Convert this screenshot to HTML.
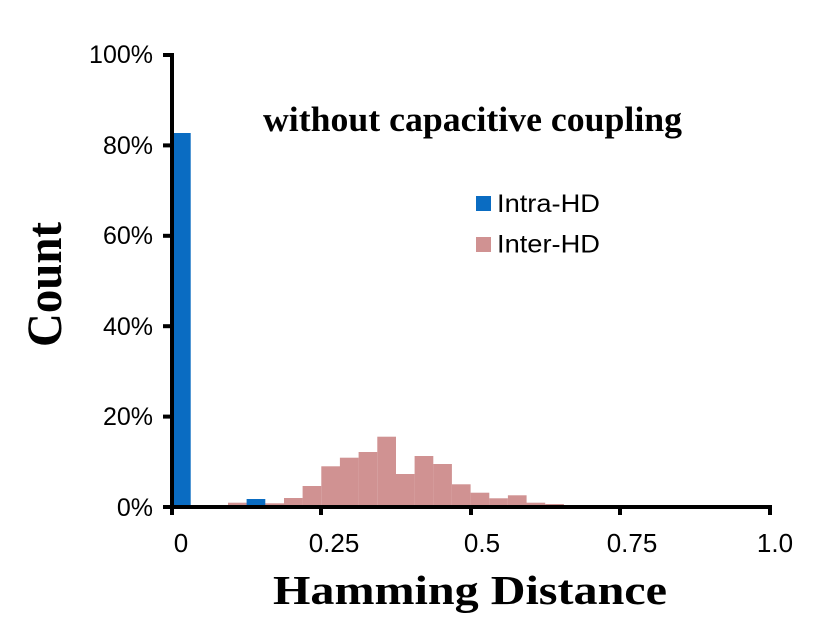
<!DOCTYPE html>
<html>
<head>
<meta charset="utf-8">
<style>
  html, body { margin: 0; padding: 0; background: #ffffff; }
  svg { display: block; }
</style>
</head>
<body>
<svg width="836" height="644" viewBox="0 0 836 644" xmlns="http://www.w3.org/2000/svg">
  <rect x="0" y="0" width="836" height="644" fill="#ffffff"/>

  <!-- Inter-HD bars (pink) -->
  <g fill="#D09292">
    <rect x="228.0" y="502.7" width="18.7" height="2.8"/>
    <rect x="246.6" y="503.0" width="18.7" height="2.5"/>
    <rect x="265.3" y="503.3" width="18.7" height="2.2"/>
    <rect x="284.0" y="498.0" width="18.7" height="7.5"/>
    <rect x="302.6" y="486.0" width="18.7" height="19.5"/>
    <rect x="321.3" y="466.3" width="18.7" height="39.2"/>
    <rect x="339.9" y="457.7" width="18.7" height="47.8"/>
    <rect x="358.6" y="452.0" width="18.7" height="53.5"/>
    <rect x="377.3" y="436.7" width="18.7" height="68.8"/>
    <rect x="395.9" y="474.0" width="18.7" height="31.5"/>
    <rect x="414.6" y="456.0" width="18.7" height="49.5"/>
    <rect x="433.2" y="464.0" width="18.7" height="41.5"/>
    <rect x="451.9" y="484.3" width="18.7" height="21.2"/>
    <rect x="470.6" y="492.7" width="18.7" height="12.8"/>
    <rect x="489.2" y="498.3" width="18.7" height="7.2"/>
    <rect x="507.9" y="495.3" width="18.7" height="10.2"/>
    <rect x="526.5" y="502.7" width="18.7" height="2.8"/>
    <rect x="545.2" y="504.0" width="18.7" height="1.5"/>
  </g>

  <!-- Intra-HD bars (blue) -->
  <g fill="#0A6CC2">
    <rect x="172" y="133" width="18.7" height="372.5"/>
    <rect x="246.6" y="499" width="18.7" height="6.5"/>
  </g>

  <!-- Axes -->
  <g fill="#000000">
    <rect x="170" y="53" width="4" height="456"/>
    <rect x="170" y="505" width="602" height="4"/>
    <!-- y ticks -->
    <rect x="163" y="53" width="9" height="4"/>
    <rect x="163" y="143.4" width="9" height="4"/>
    <rect x="163" y="233.8" width="9" height="4"/>
    <rect x="163" y="324.2" width="9" height="4"/>
    <rect x="163" y="414.6" width="9" height="4"/>
    <rect x="163" y="505" width="9" height="4"/>
    <!-- x ticks -->
    <rect x="170" y="505" width="4" height="10"/>
    <rect x="319" y="505" width="4" height="10"/>
    <rect x="469" y="505" width="4" height="10"/>
    <rect x="618" y="505" width="4" height="10"/>
    <rect x="768" y="505" width="4" height="10"/>
  </g>

  <!-- Y tick labels -->
  <g font-family="Liberation Sans, Arial, sans-serif" font-size="25" fill="#000" text-anchor="end">
    <text x="153" y="63">100%</text>
    <text x="153" y="154">80%</text>
    <text x="153" y="244">60%</text>
    <text x="153" y="335">40%</text>
    <text x="153" y="425">20%</text>
    <text x="153" y="516">0%</text>
  </g>

  <!-- X tick labels -->
  <g font-family="Liberation Sans, Arial, sans-serif" font-size="26" fill="#000" text-anchor="middle">
    <text x="181" y="552">0</text>
    <text x="334" y="552">0.25</text>
    <text x="482" y="552">0.5</text>
    <text x="632" y="552">0.75</text>
    <text x="775" y="552">1.0</text>
  </g>

  <!-- Title -->
  <text x="263" y="131" font-family="Liberation Serif, 'Times New Roman', serif" font-weight="bold" font-size="35" fill="#000" textLength="419" lengthAdjust="spacingAndGlyphs">without capacitive coupling</text>

  <!-- Legend -->
  <rect x="476" y="196" width="15" height="15" fill="#0A6CC2"/>
  <rect x="476" y="237" width="15" height="15" fill="#D09292"/>
  <g font-family="Liberation Sans, Arial, sans-serif" font-size="25" fill="#000">
    <text x="497" y="212" textLength="103" lengthAdjust="spacingAndGlyphs">Intra-HD</text>
    <text x="497" y="252.5" textLength="103" lengthAdjust="spacingAndGlyphs">Inter-HD</text>
  </g>

  <!-- Axis titles -->
  <text x="273" y="604" font-family="Liberation Serif, 'Times New Roman', serif" font-weight="bold" font-size="41" fill="#000" textLength="394" lengthAdjust="spacingAndGlyphs">Hamming Distance</text>
  <text transform="translate(61,284.5) rotate(-90)" x="0" y="0" text-anchor="middle" font-family="Liberation Serif, 'Times New Roman', serif" font-weight="bold" font-size="50" fill="#000" textLength="125" lengthAdjust="spacingAndGlyphs">Count</text>
</svg>
</body>
</html>
